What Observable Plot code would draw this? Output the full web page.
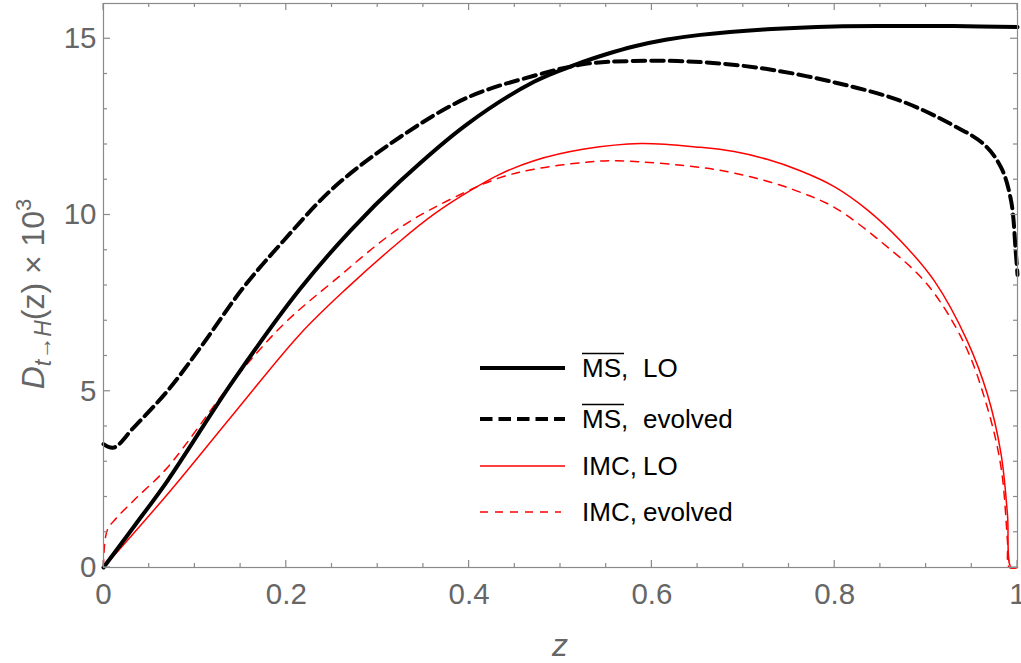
<!DOCTYPE html>
<html><head><meta charset="utf-8">
<script src="https://cdn.jsdelivr.net/npm/d3@7"></script>
<script src="https://cdn.jsdelivr.net/npm/@observablehq/plot@0.6"></script>
<style>body{margin:0;background:#fff;} #chart svg{overflow:visible;display:block;}</style>
</head><body><div id="chart"></div>
<script>
// ---- tick values ----
const xTicks = [0, 0.2, 0.4, 0.6, 0.8, 1];
const xTickLabels = ["0", "0.2", "0.4", "0.6", "0.8", "1"];
const xMinorTicks = [0.05, 0.1, 0.15, 0.25, 0.3, 0.35, 0.45, 0.5, 0.55, 0.65, 0.7, 0.75, 0.85, 0.9, 0.95];
const yTicks = [0, 5, 10, 15];
const yMinorTicks = [1, 2, 3, 4, 6, 7, 8, 9, 11, 12, 13, 14];

// ---- series: MSbar, LO ----
const msLO_z = [0, 0.035, 0.07, 0.142, 0.215, 0.27, 0.325, 0.398, 0.471, 0.518, 0.55, 0.58, 0.615, 0.653, 0.726, 0.8, 0.87, 0.93, 1];
const msLO_v = [0, 1.22, 2.46, 5.30, 7.90, 9.55, 10.97, 12.58, 13.78, 14.28, 14.56, 14.78, 14.97, 15.11, 15.27, 15.35, 15.36, 15.36, 15.33];

// ---- series: MSbar, evolved ----
const msEv_z = [0, 0.011, 0.033, 0.07, 0.106, 0.153, 0.197, 0.252, 0.325, 0.398, 0.471, 0.526, 0.58, 0.653, 0.726, 0.8, 0.872, 0.927, 0.963, 0.982, 0.993, 0.998, 1];
const msEv_v = [3.50, 3.40, 3.97, 5.01, 6.24, 7.94, 9.27, 10.78, 12.22, 13.33, 13.95, 14.28, 14.37, 14.34, 14.14, 13.76, 13.24, 12.58, 12.01, 11.35, 10.40, 8.98, 8.30];

// ---- series: IMC, LO ----
const imcLO_z = [0, 0.07, 0.142, 0.215, 0.267, 0.325, 0.362, 0.398, 0.434, 0.471, 0.526, 0.588, 0.653, 0.69, 0.726, 0.763, 0.8, 0.836, 0.872, 0.909, 0.945, 0.967, 0.982, 0.989, 0.993, 1];
const imcLO_v = [0, 2.08, 4.35, 6.62, 7.94, 9.27, 10.03, 10.64, 11.16, 11.54, 11.87, 12.03, 11.92, 11.80, 11.58, 11.25, 10.80, 10.14, 9.27, 8.13, 6.43, 4.92, 3.22, 1.51, 0, 0];

// ---- series: IMC, evolved ----
const imcEv_z = [0, 0.004, 0.0148, 0.035, 0.07, 0.142, 0.197, 0.252, 0.325, 0.391, 0.434, 0.471, 0.526, 0.562, 0.653, 0.69, 0.726, 0.763, 0.8, 0.854, 0.901, 0.942, 0.967, 0.982, 0.989, 0.991, 1];
const imcEv_v = [0, 1.05, 1.42, 1.95, 2.84, 5.30, 6.90, 8.13, 9.65, 10.59, 11.06, 11.30, 11.49, 11.54, 11.35, 11.19, 10.96, 10.64, 10.21, 9.17, 8.04, 6.34, 4.54, 2.84, 0.76, 0, 0];

const legendLabels = [["MS", ",", "LO"], ["MS", ",", "evolved"], ["IMC,", "", "LO"], ["IMC,", "", "evolved"]];

const toRows = (zs, vs) => zs.map((z, i) => ({z, v: vs[i]}));
const styles = [
  {stroke: "#000", strokeWidth: 4, dash: null},
  {stroke: "#000", strokeWidth: 4, dash: "12.5,6"},
  {stroke: "#ff0000", strokeWidth: 1.5, dash: null},
  {stroke: "#ff0000", strokeWidth: 1.5, dash: "8,7"}
];
const series = [toRows(msLO_z, msLO_v), toRows(msEv_z, msEv_v), toRows(imcLO_z, imcLO_v), toRows(imcEv_z, imcEv_v)];

const FONT = "'Liberation Sans', Arial, Helvetica, sans-serif";
const GRAY = "#666";

const chart = Plot.plot({
  width: 1021, height: 663,
  marginLeft: 103, marginRight: 4, marginTop: 3, marginBottom: 96,
  style: {fontFamily: FONT, background: "#fff"},
  x: {domain: [0, 1]},
  y: {domain: [0, 16]},
  marks: [
    ...series.map((rows, i) => Plot.line(rows, {
      x: "z", y: "v", stroke: styles[i].stroke, strokeWidth: styles[i].strokeWidth,
      strokeDasharray: styles[i].dash, curve: "catmull-rom"
    })).reverse(),
    Plot.frame({stroke: "#8a8a8a", strokeWidth: 1.2}),
    Plot.axisX({ticks: xTicks, tickFormat: d => xTickLabels[xTicks.indexOf(d)], tickSize: 0, tickPadding: 16, fontSize: 29.5, fill: GRAY, label: null}),
    Plot.axisY({ticks: yTicks, tickSize: 0, tickPadding: 7, fontSize: 29.5, fill: GRAY, label: null})
  ]
});
document.getElementById("chart").appendChild(chart);

// ---- inward frame ticks drawn with the Plot scales ----
const svg = d3.select(chart);
const sx = chart.scale("x"), sy = chart.scale("y");
const xL = sx.apply(0), xR = sx.apply(1), yB = sy.apply(0), yT = sy.apply(16);
const tg = svg.append("g").attr("stroke", "#8a8a8a").attr("stroke-width", 1.2);
const tick = (x1, y1, x2, y2) => tg.append("line").attr("x1", x1).attr("y1", y1).attr("x2", x2).attr("y2", y2);
const MAJ = 7, MIN = 4;
xTicks.forEach(t => { const p = sx.apply(t); tick(p, yB, p, yB - MAJ); tick(p, yT, p, yT + MAJ); });
xMinorTicks.forEach(t => { const p = sx.apply(t); tick(p, yB, p, yB - MIN); tick(p, yT, p, yT + MIN); });
yTicks.forEach(t => { const p = sy.apply(t); tick(xL, p, xL + MAJ, p); tick(xR, p, xR - MAJ, p); });
yMinorTicks.forEach(t => { const p = sy.apply(t); tick(xL, p, xL + MIN, p); tick(xR, p, xR - MIN, p); });

// ---- axis titles ----
svg.append("text").attr("x", (xL + xR) / 2).attr("y", 656).attr("text-anchor", "middle")
  .attr("font-family", FONT).attr("font-size", 32).attr("font-style", "italic").attr("fill", GRAY).text("z");

const yl = svg.append("text").attr("transform", `translate(44,294) rotate(-90)`)
  .attr("text-anchor", "middle").attr("font-family", FONT).attr("font-size", 32).attr("fill", GRAY);
yl.append("tspan").attr("font-style", "italic").text("D");
yl.append("tspan").attr("font-style", "italic").attr("font-size", 23).attr("dy", 7).text("t→H");
yl.append("tspan").attr("dy", -7).text("(z) × 10");
yl.append("tspan").attr("font-size", 22).attr("dy", -13).text("3");

// ---- legend ----
const LX = 480, LLEN = 85, TX = 582, TX2 = 643, rowsY = [368, 419, 466, 512];
const lg = svg.append("g").attr("font-family", FONT).attr("font-size", 26).attr("fill", "#000").attr("text-anchor", "start");
rowsY.forEach((ry, i) => {
  const s = styles[i];
  const ln = lg.append("line").attr("x1", LX).attr("x2", LX + (s.dash && s.strokeWidth < 2 ? LLEN - 4 : LLEN))
    .attr("y1", ry).attr("y2", ry).attr("stroke", s.stroke).attr("stroke-width", s.strokeWidth);
  if (s.dash) ln.attr("stroke-dasharray", s.dash);
  const [a, b, c] = legendLabels[i];
  const t1 = lg.append("text").attr("text-anchor", "start").attr("x", TX).attr("y", ry + 9).text(a);
  if (b) {
    const w = t1.node().getComputedTextLength();
    lg.append("line").attr("x1", TX).attr("x2", TX + w + 3).attr("y1", ry - 14.5).attr("y2", ry - 14.5)
      .attr("stroke", "#000").attr("stroke-width", 1.6);
    lg.append("text").attr("text-anchor", "start").attr("x", TX + w).attr("y", ry + 9).text(b);
  }
  lg.append("text").attr("text-anchor", "start").attr("x", TX2).attr("y", ry + 9).text(c);
});
</script>
</body></html>
